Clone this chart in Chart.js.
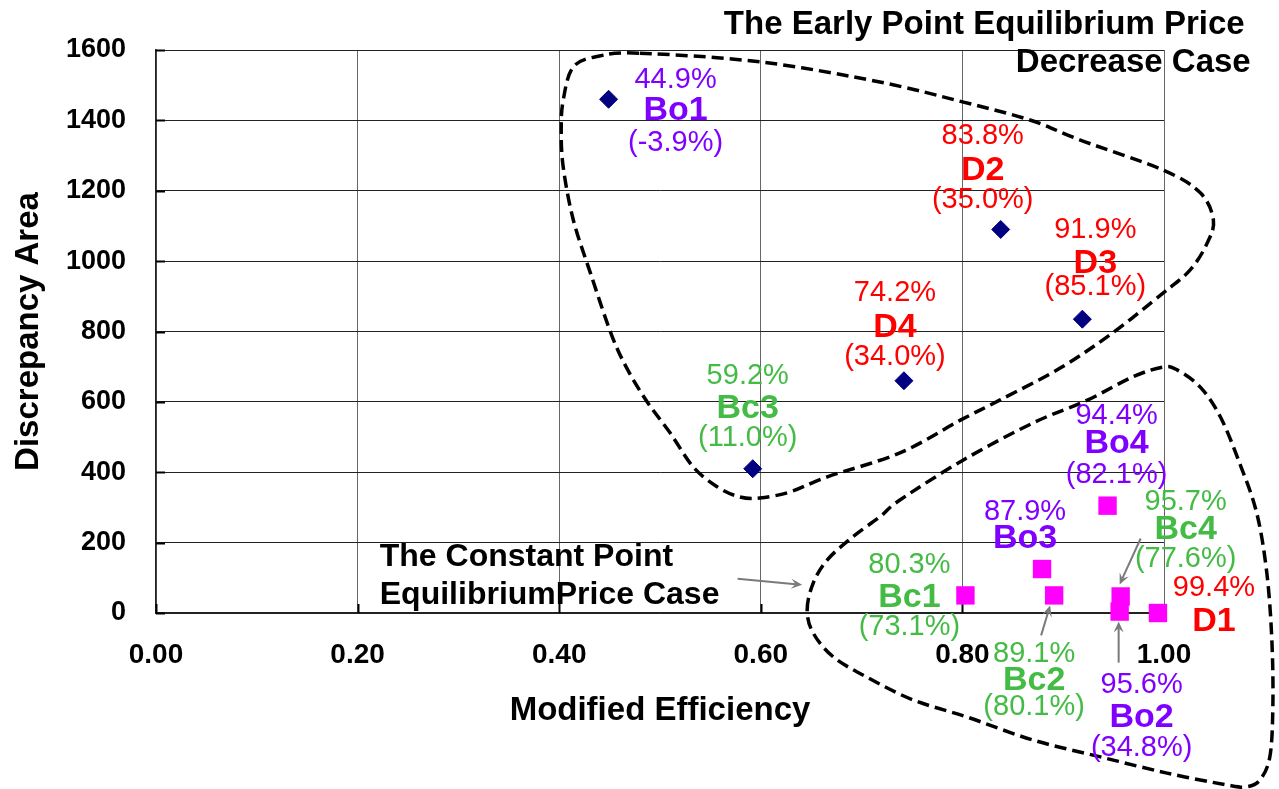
<!DOCTYPE html>
<html>
<head>
<meta charset="utf-8">
<script src="https://cdn.jsdelivr.net/npm/chart.js@4.4.0/dist/chart.umd.min.js"></script>
<style>
html,body{margin:0;padding:0;background:#fff;}
#wrap{width:1279px;height:789px;position:relative;}
</style>
</head>
<body>
<div id="wrap"><canvas id="c" width="1279" height="789"></canvas></div>
<script>
// ---------- DATA ----------
// "Early Point Equilibrium Price Decrease" cases (diamonds)
const earlyNames  = ['Bo1', 'D2', 'D3', 'D4', 'Bc3'];
const earlyEff    = [0.449, 0.838, 0.919, 0.742, 0.592];
const earlyArea   = [1460, 1090, 835, 660, 410];
const earlyTop    = ['44.9%', '83.8%', '91.9%', '74.2%', '59.2%'];
const earlyBottom = ['(-3.9%)', '(35.0%)', '(85.1%)', '(34.0%)', '(11.0%)'];

// "Constant Point Equilibrium Price" cases (squares)
const constNames  = ['Bc1', 'Bo3', 'Bc2', 'Bo4', 'Bc4', 'Bo2', 'D1'];
const constEff    = [0.803, 0.879, 0.891, 0.944, 0.957, 0.956, 0.994];
const constArea   = [50, 125, 50, 305, 47, 4, 0];
const constTop    = ['80.3%', '87.9%', '89.1%', '94.4%', '95.7%', '95.6%', '99.4%'];
const constBottom = ['(73.1%)', '', '(80.1%)', '(82.1%)', '(77.6%)', '(34.8%)', ''];

// axis ticks
const xTicks = [0, 0.2, 0.4, 0.6, 0.8, 1.0];
const yTicks = [0, 200, 400, 600, 800, 1000, 1200, 1400, 1600];

// ---------- LAYOUT / STYLE (not data) ----------
const FONT = '"Liberation Sans", Arial, Helvetica, sans-serif';
const COLORS = { Bo: '#8000ff', Bc: '#44bb44', D: '#ff0000' };
// label placement: name centre offset from point (px), top/bottom line offsets from name centre
const earlyLabelPos = [
  {dx: 67, dy: 11, top: -30, bot: 33},
  {dx: -18, dy: -59, top: -34, bot: 30},
  {dx: 13, dy: -56, top: -33, bot: 24},
  {dx: -9, dy: -53, top: -35, bot: 29},
  {dx: -5, dy: -60, top: -33, bot: 29}
];
const constLabelPos = [
  {dx: -56, dy: 2, top: -32, bot: 30},
  {dx: -17, dy: -30, top: -27, bot: 30},
  {dx: -20, dy: 85, top: -26, bot: 27},
  {dx: 9, dy: -62, top: -28, bot: 31},
  {dx: 65, dy: -67, top: -27, bot: 30},
  {dx: 22, dy: 106, top: -33, bot: 30},
  {dx: 56, dy: 9, top: -34, bot: 30}
];
// arrows attached to constant-case points: [index, fromDx, fromDy, toDx, toDy]
const pointArrows = [
  [4, 20, -58, -1, -12],
  [2, -13, 40, -4, 10],
  [5, -1, 51, -1, 10]
];
// dashed enclosing outlines, in data units [efficiency, area]
const earlyOutline = [
  [0.480,1591],[0.600,1566],[0.718,1509],[0.801,1452],[0.867,1401],[0.917,1344],[0.999,1259],
  [1.036,1194],[1.049,1117],[1.043,1052],[1.026,975],[0.999,909],[0.949,796],[0.897,696],
  [0.837,605],[0.798,548],[0.738,455],[0.666,387],[0.629,344],[0.599,327],[0.579,330],
  [0.557,358],[0.533,415],[0.510,512],[0.488,597],[0.468,691],[0.452,790],[0.431,966],
  [0.414,1117],[0.404,1267],[0.402,1373],[0.404,1458],[0.414,1552],[0.440,1583]
];
const constOutline = [
  [0.646,9],[0.652,85],[0.666,151],[0.691,216],[0.718,273],[0.738,321],[0.801,435],[0.870,540],
  [0.924,605],[0.969,671],[0.999,699],[1.013,691],[1.036,642],[1.056,557],[1.075,426],
  [1.092,284],[1.102,114],[1.107,-77],[1.108,-267],[1.105,-409],[1.095,-475],[1.082,-494],
  [1.063,-489],[1.003,-455],[0.937,-409],[0.870,-361],[0.805,-296],[0.751,-247],[0.705,-182],
  [0.672,-125],[0.652,-57]
];
// annotation texts (data-unit anchors)
const earlyCaption = [
  {text: 'The Early Point Equilibrium Price', x: 1.080, y: 1671, align: 'right'},
  {text: 'Decrease Case', x: 1.086, y: 1563, align: 'right'}
];
const constCaption = [
  {text: 'The Constant Point', x: 0.222, y: 159, align: 'left'},
  {text: 'EquilibriumPrice Case', x: 0.222, y: 51, align: 'left'}
];
const captionArrow = [[0.577, 97], [0.641, 80]];

function colorFor(name) {
  if (name.startsWith('Bo')) return COLORS.Bo;
  if (name.startsWith('Bc')) return COLORS.Bc;
  return COLORS.D;
}

function closedSpline(ctx, pts) {
  const n = pts.length;
  ctx.beginPath();
  ctx.moveTo(pts[0][0], pts[0][1]);
  for (let i = 0; i < n; i++) {
    const p0 = pts[(i - 1 + n) % n], p1 = pts[i], p2 = pts[(i + 1) % n], p3 = pts[(i + 2) % n];
    const c1x = p1[0] + (p2[0] - p0[0]) / 6, c1y = p1[1] + (p2[1] - p0[1]) / 6;
    const c2x = p2[0] - (p3[0] - p1[0]) / 6, c2y = p2[1] - (p3[1] - p1[1]) / 6;
    ctx.bezierCurveTo(c1x, c1y, c2x, c2y, p2[0], p2[1]);
  }
  ctx.closePath();
}

function drawArrow(ctx, x1, y1, x2, y2) {
  const ang = Math.atan2(y2 - y1, x2 - x1);
  const head = 11, hw = 5;
  ctx.save();
  ctx.strokeStyle = '#7a7a7a';
  ctx.fillStyle = '#7a7a7a';
  ctx.lineWidth = 2;
  ctx.setLineDash([]);
  ctx.beginPath();
  ctx.moveTo(x1, y1);
  ctx.lineTo(x2 - Math.cos(ang) * head * 0.6, y2 - Math.sin(ang) * head * 0.6);
  ctx.stroke();
  ctx.beginPath();
  ctx.moveTo(x2, y2);
  ctx.lineTo(x2 - Math.cos(ang) * head + Math.sin(ang) * hw, y2 - Math.sin(ang) * head - Math.cos(ang) * hw);
  ctx.lineTo(x2 - Math.cos(ang) * head * 0.6, y2 - Math.sin(ang) * head * 0.6);
  ctx.lineTo(x2 - Math.cos(ang) * head - Math.sin(ang) * hw, y2 - Math.sin(ang) * head + Math.cos(ang) * hw);
  ctx.closePath();
  ctx.fill();
  ctx.restore();
}

const decorPlugin = {
  id: 'decor',
  beforeDatasetsDraw(chart) {
    const {ctx, scales: {x, y}, chartArea} = chart;
    // inner tick marks
    ctx.save();
    ctx.strokeStyle = '#000';
    ctx.lineWidth = 2;
    yTicks.forEach(v => {
      const py = Math.round(y.getPixelForValue(v)) + 0.5;
      ctx.beginPath(); ctx.moveTo(chartArea.left, py); ctx.lineTo(chartArea.left + 9, py); ctx.stroke();
    });
    xTicks.forEach(v => {
      const px = Math.round(x.getPixelForValue(v)) + 0.5;
      ctx.beginPath(); ctx.moveTo(px, chartArea.bottom); ctx.lineTo(px, chartArea.bottom - 9); ctx.stroke();
    });
    ctx.restore();
    // dashed outlines
    ctx.save();
    ctx.strokeStyle = '#000';
    ctx.lineWidth = 3.5;
    ctx.setLineDash([12, 6]);
    [earlyOutline, constOutline].forEach(outline => {
      const pts = outline.map(p => [x.getPixelForValue(p[0]), y.getPixelForValue(p[1])]);
      closedSpline(ctx, pts);
      ctx.stroke();
    });
    ctx.restore();
    // captions
    ctx.save();
    ctx.fillStyle = '#000';
    ctx.textBaseline = 'middle';
    ctx.font = 'bold 33px ' + FONT;
    earlyCaption.forEach(c => {
      ctx.textAlign = c.align;
      ctx.fillText(c.text, x.getPixelForValue(c.x), y.getPixelForValue(c.y));
    });
    ctx.font = 'bold 32px ' + FONT;
    constCaption.forEach(c => {
      ctx.textAlign = c.align;
      ctx.fillText(c.text, x.getPixelForValue(c.x), y.getPixelForValue(c.y));
    });
    ctx.restore();
    drawArrow(ctx, x.getPixelForValue(captionArrow[0][0]), y.getPixelForValue(captionArrow[0][1]),
              x.getPixelForValue(captionArrow[1][0]), y.getPixelForValue(captionArrow[1][1]));
  },
  afterDatasetsDraw(chart) {
    const {ctx} = chart;
    const drawLabels = (dsIndex, names, tops, bottoms, pos) => {
      const meta = chart.getDatasetMeta(dsIndex);
      meta.data.forEach((el, i) => {
        const cx = el.x + pos[i].dx, cy = el.y + pos[i].dy;
        ctx.save();
        ctx.fillStyle = colorFor(names[i]);
        ctx.textAlign = 'center';
        ctx.textBaseline = 'middle';
        ctx.font = '29px ' + FONT;
        if (tops[i]) ctx.fillText(tops[i], cx, cy + pos[i].top);
        if (bottoms[i]) ctx.fillText(bottoms[i], cx, cy + pos[i].bot);
        ctx.font = 'bold 34px ' + FONT;
        ctx.fillText(names[i], cx, cy);
        ctx.restore();
      });
    };
    drawLabels(0, earlyNames, earlyTop, earlyBottom, earlyLabelPos);
    drawLabels(1, constNames, constTop, constBottom, constLabelPos);
    const meta = chart.getDatasetMeta(1);
    pointArrows.forEach(a => {
      const el = meta.data[a[0]];
      drawArrow(ctx, el.x + a[1], el.y + a[2], el.x + a[3], el.y + a[4]);
    });
  }
};

new Chart(document.getElementById('c'), {
  type: 'scatter',
  data: {
    datasets: [
      {
        label: 'Early Point Equilibrium Price Decrease',
        data: earlyEff.map((v, i) => ({x: v, y: earlyArea[i]})),
        pointStyle: 'rectRot',
        pointRadius: 9,
        pointHoverRadius: 9,
        backgroundColor: '#000080',
        borderColor: '#000080',
        borderWidth: 1,
        clip: false
      },
      {
        label: 'Constant Point Equilibrium Price',
        data: constEff.map((v, i) => ({x: v, y: constArea[i]})),
        pointStyle: 'rect',
        pointRadius: 13,
        pointHoverRadius: 13,
        backgroundColor: '#ff00ff',
        borderColor: '#ff00ff',
        borderWidth: 0,
        clip: false
      }
    ]
  },
  options: {
    responsive: false,
    animation: false,
    devicePixelRatio: 1,
    events: [],
    layout: {padding: {top: 50, right: 115, left: 0, bottom: 0}},
    plugins: {legend: {display: false}, tooltip: {enabled: false}},
    scales: {
      x: {
        type: 'linear',
        min: 0, max: 1,
        afterBuildTicks: s => { s.ticks = xTicks.map(v => ({value: v})); },
        afterFit: s => { s.height = 176; },
        ticks: {
          callback: v => Number(v).toFixed(2),
          color: '#000',
          font: {family: FONT, size: 28, weight: 'bold'},
          padding: 25,
          maxRotation: 0
        },
        grid: {color: '#666', lineWidth: 1, drawTicks: false},
        border: {color: '#222', width: 1.5},
        title: {
          display: true,
          text: 'Modified Efficiency',
          color: '#000',
          font: {family: FONT, size: 33, weight: 'bold'},
          padding: {top: 0, bottom: 58}
        }
      },
      y: {
        type: 'linear',
        min: 0, max: 1600,
        afterBuildTicks: s => { s.ticks = yTicks.map(v => ({value: v})); },
        afterFit: s => { s.width = 156; },
        ticks: {
          callback: v => String(v),
          color: '#000',
          font: {family: FONT, size: 27, weight: 'bold'},
          padding: 30
        },
        grid: {color: '#222', lineWidth: 1, drawTicks: false},
        border: {color: '#222', width: 1.5},
        title: {
          display: true,
          text: 'Discrepancy Area',
          color: '#000',
          font: {family: FONT, size: 33, weight: 'bold'},
          padding: {top: 9, bottom: 0}
        }
      }
    }
  },
  plugins: [decorPlugin]
});
</script>
</body>
</html>
